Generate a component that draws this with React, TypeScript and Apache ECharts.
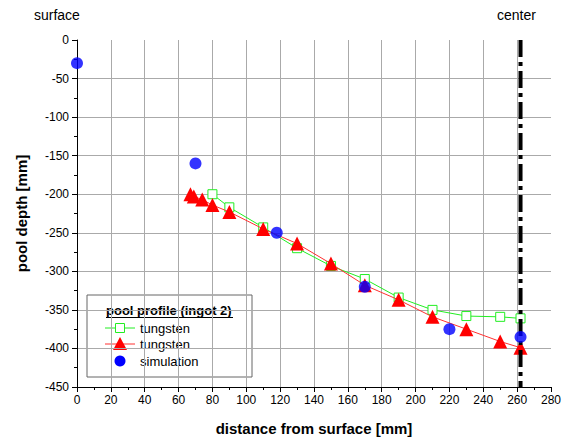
import React, { useEffect, useRef } from "react";
import * as echarts from "echarts";

const greenX = [80, 90, 110, 130, 150, 170, 190, 210, 230, 250, 262];
const greenY = [-200, -217, -243, -270, -293, -310, -334, -350, -358, -359, -361];
const redX = [67, 69, 74, 80, 90, 110, 130, 150, 170, 190, 210, 230, 250, 262];
const redY = [-200, -203, -207, -214, -223, -245, -264, -290, -318, -337, -359, -375, -391, -399];
const simX = [0, 70, 118, 170, 220, 262];
const simY = [-30, -160, -250, -320, -375, -385];
const centerX = 262;
const legendTitle = "pool profile (ingot 2)";
const legendNames = ["tungsten", "tungsten", "simulation"];

const FONT = "'Liberation Sans', Arial, sans-serif";

function pairs(xs: number[], ys: number[]) {
  return xs.map((x, i) => [x, ys[i]]);
}

export default function App() {
  const ref = useRef<HTMLDivElement>(null);
  useEffect(() => {
    if (!ref.current) return;
    document.body.style.margin = "0";
    const chart = echarts.init(ref.current, undefined, { renderer: "svg" });
    const lx = 87, ly = 295;
    const txt = (t: string, x: number, y: number, bold = false) => ({
      type: "text",
      x,
      y,
      style: {
        text: t,
        fontSize: 13,
        fontWeight: bold ? "bold" : "normal",
        fill: "#000",
        fontFamily: FONT,
        textVerticalAlign: "middle",
        verticalAlign: "middle",
      },
    });
    const option: any = {
      animation: false,
      backgroundColor: "#fff",
      textStyle: { fontFamily: FONT },
      grid: { left: 77, right: 17, top: 40, bottom: 58 },
      xAxis: {
        type: "value",
        min: 0,
        max: 280,
        interval: 20,
        name: "distance from surface [mm]",
        nameLocation: "middle",
        nameGap: 34,
        nameTextStyle: { fontSize: 15, fontWeight: "bold", color: "#000", fontFamily: FONT },
        axisLine: { show: true, onZero: false, lineStyle: { color: "#000", width: 1 } },
        axisTick: { show: true, inside: false, length: 5, lineStyle: { color: "#000" } },
        minorTick: { show: true, splitNumber: 2, length: 3, lineStyle: { color: "#000" } },
        axisLabel: { fontSize: 12, color: "#000", margin: 7, fontFamily: FONT },
        splitLine: { show: true, showMinLine: false, showMaxLine: false, lineStyle: { color: "#aaaaaa", width: 1 } },
      },
      yAxis: {
        type: "value",
        min: -450,
        max: 0,
        interval: 50,
        name: "pool depth [mm]",
        nameLocation: "middle",
        nameGap: 48,
        nameTextStyle: { fontSize: 15, fontWeight: "bold", color: "#000", fontFamily: FONT },
        axisLine: { show: true, onZero: false, lineStyle: { color: "#000", width: 1 } },
        axisTick: { show: true, inside: false, length: 5, lineStyle: { color: "#000" } },
        minorTick: { show: true, splitNumber: 2, length: 3, lineStyle: { color: "#000" } },
        axisLabel: { fontSize: 12, color: "#000", margin: 8, fontFamily: FONT },
        splitLine: { show: true, showMinLine: false, showMaxLine: false, lineStyle: { color: "#aaaaaa", width: 1 } },
      },
      series: [
        {
          type: "line",
          name: "tungsten-green",
          data: pairs(greenX, greenY),
          symbol: "rect",
          symbolSize: 9,
          itemStyle: { color: "#ffffff", borderColor: "#22ee22", borderWidth: 1 },
          lineStyle: { color: "#22ee22", width: 1 },
          z: 2,
        },
        {
          type: "line",
          name: "tungsten-red",
          data: pairs(redX, redY),
          symbol: "triangle",
          symbolSize: 14,
          itemStyle: { color: "#ff0000" },
          lineStyle: { color: "#ff3030", width: 1 },
          z: 3,
        },
        {
          type: "line",
          name: "center",
          data: [[centerX, 0], [centerX, -450]],
          symbol: "none",
          lineStyle: { color: "#000", width: 4, type: [17, 5, 4, 5] },
          z: 4,
        },
        {
          type: "scatter",
          name: "simulation",
          data: pairs(simX, simY),
          symbol: "circle",
          symbolSize: 12,
          itemStyle: { color: "#0000ff" },
          z: 5,
        },
      ],
      graphic: [
        { type: "text", left: 34, top: 8, style: { text: "surface", fontSize: 14, fill: "#000", fontFamily: FONT } },
        { type: "text", left: 497, top: 8, style: { text: "center", fontSize: 14, fill: "#000", fontFamily: FONT } },
        {
          type: "group",
          x: lx,
          y: ly,
          z: 100,
          children: [
            { type: "rect", shape: { x: 0, y: 0, width: 165, height: 82 }, style: { fill: "#fff", stroke: "#666", lineWidth: 1 } },
            txt(legendTitle, 19, 15, true),
            { type: "line", shape: { x1: 19, y1: 22.5, x2: 146, y2: 22.5 }, style: { stroke: "#000", lineWidth: 1 } },
            { type: "line", shape: { x1: 18, y1: 33, x2: 48, y2: 33 }, style: { stroke: "#22ee22", lineWidth: 1 } },
            { type: "rect", shape: { x: 28.5, y: 28.5, width: 9, height: 9 }, style: { fill: "#fff", stroke: "#22ee22", lineWidth: 1 } },
            txt(legendNames[0], 53, 33),
            { type: "line", shape: { x1: 18, y1: 49, x2: 48, y2: 49 }, style: { stroke: "#ff3030", lineWidth: 1 } },
            { type: "polygon", shape: { points: [[33, 42], [40, 55], [26, 55]] }, style: { fill: "#ff0000" } },
            txt(legendNames[1], 53, 49),
            { type: "circle", shape: { cx: 33, cy: 66, r: 5.5 }, style: { fill: "#0000ff" } },
            txt(legendNames[2], 53, 66),
          ],
        },
      ],
    };
    chart.setOption(option);
    return () => chart.dispose();
  }, []);
  return <div ref={ref} style={{ width: 568, height: 445 }} />;
}
